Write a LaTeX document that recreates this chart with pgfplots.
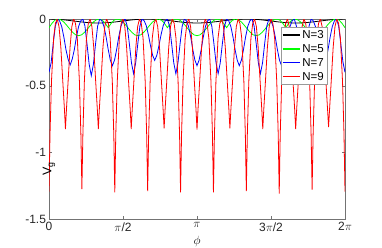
\documentclass[border=0pt]{standalone}
\usepackage{fontspec}
\setmainfont{Liberation Sans}
\usepackage{pgfplots}
\pgfplotsset{compat=1.18}
\definecolor{mgreen}{rgb}{0,1,0}
\begin{document}
\begin{tikzpicture}
\useasboundingbox (-49pt,-28pt) rectangle (333pt,219pt);
\begin{axis}[
  at={(0,0)}, anchor=south west,
  scale only axis, width=296pt, height=200pt,
  xmin=0, xmax=6.283185, ymin=-1.5, ymax=0,
  xtick={0,1.570796,3.141593,4.712389,6.283185},
  xticklabels={0,$\pi$/2,$\pi$,3$\pi$/2,2$\pi$},
  ytick={-1.5,-1,-0.5,0},
  yticklabels={-1.5,-1,-0.5,0},
  tick align=inside,
  major tick length=3pt,
  axis line style={black!55}, tick style={black!55},
  tick label style={font=\fontsize{12}{14}\selectfont, text=black!85},
  yticklabel style={xshift=0.5pt},
  xlabel={$\phi$},
  xlabel style={at={(axis description cs:0.5,0)}, anchor=north, yshift=-14pt, font=\fontsize{12}{14}\selectfont},
  ylabel={V\textsubscript{g}},
  ylabel style={at={(axis description cs:0,0.405)}, anchor=center, xshift=-31pt, font=\fontsize{12.5}{14}\selectfont},
  legend style={at={(0.939,0.96)}, anchor=north east, draw=black!40, font=\fontsize{11.5}{13}\selectfont, cells={anchor=west}, inner sep=1pt, row sep=0.5pt},
  legend image code/.code={\draw[#1, line width=1.3pt] (0cm,0cm) -- (0.6cm,0cm);},
  every axis plot/.append style={line width=0.8pt},
]
% N=3, x in units of pi/3
\addplot[black, smooth, x filter/.expression={x*1.0471976}] coordinates {
(0,0) (0.25,-0.0044) (0.5,-0.015) (0.75,-0.0256) (1,-0.03) (1.25,-0.0256) (1.5,-0.015) (1.75,-0.0044)
(2,0) (2.25,-0.0044) (2.5,-0.015) (2.75,-0.0256) (3,-0.03) (3.25,-0.0256) (3.5,-0.015) (3.75,-0.0044)
(4,0) (4.25,-0.0044) (4.5,-0.015) (4.75,-0.0256) (5,-0.03) (5.25,-0.0256) (5.5,-0.015) (5.75,-0.0044)
(6,0)};
\addlegendentry{N=3}
% N=5, x in units of pi/5
\addplot[mgreen, x filter/.expression={x*0.6283185}] coordinates {
(0,-0.065) (0.1,-0.0325) (0.2,-0.0085) (0.3,0) (0.4,-0.006) (0.5,-0.0225) (0.6,-0.0475) (0.7,-0.075) (0.8,-0.1) (0.9,-0.119)
(1,-0.125) (1.1,-0.119) (1.2,-0.1) (1.3,-0.075) (1.4,-0.0475) (1.5,-0.0225) (1.6,-0.006) (1.7,0) (1.8,-0.0085) (1.9,-0.0325)
(2,-0.065) (2.1,-0.0325) (2.2,-0.0085) (2.3,0) (2.4,-0.006) (2.5,-0.0225) (2.6,-0.0475) (2.7,-0.075) (2.8,-0.1) (2.9,-0.119)
(3,-0.125) (3.1,-0.119) (3.2,-0.1) (3.3,-0.075) (3.4,-0.0475) (3.5,-0.0225) (3.6,-0.006) (3.7,0) (3.8,-0.0085) (3.9,-0.0325)
(4,-0.065) (4.1,-0.0325) (4.2,-0.0085) (4.3,0) (4.4,-0.006) (4.5,-0.0225) (4.6,-0.0475) (4.7,-0.075) (4.8,-0.1) (4.9,-0.119)
(5,-0.125) (5.1,-0.119) (5.2,-0.1) (5.3,-0.075) (5.4,-0.0475) (5.5,-0.0225) (5.6,-0.006) (5.7,0) (5.8,-0.0085) (5.9,-0.0325)
(6,-0.065) (6.1,-0.0325) (6.2,-0.0085) (6.3,0) (6.4,-0.006) (6.5,-0.0225) (6.6,-0.0475) (6.7,-0.075) (6.8,-0.1) (6.9,-0.119)
(7,-0.125) (7.1,-0.119) (7.2,-0.1) (7.3,-0.075) (7.4,-0.0475) (7.5,-0.0225) (7.6,-0.006) (7.7,0) (7.8,-0.0085) (7.9,-0.0325)
(8,-0.065) (8.1,-0.0325) (8.2,-0.0085) (8.3,0) (8.4,-0.006) (8.5,-0.0225) (8.6,-0.0475) (8.7,-0.075) (8.8,-0.1) (8.9,-0.119)
(9,-0.125) (9.1,-0.119) (9.2,-0.1) (9.3,-0.075) (9.4,-0.0475) (9.5,-0.0225) (9.6,-0.006) (9.7,0) (9.8,-0.0085) (9.9,-0.0325)
(10,-0.065)};
\addlegendentry{N=5}
% N=7, x in units of pi/7
\addplot[blue, x filter/.expression={x*0.4487990}] coordinates {
(0,-0.40) (0.1,-0.328) (0.2,-0.185) (0.3,-0.053) (0.4,0) (0.5,-0.014) (0.6,-0.056) (0.7,-0.133) (0.8,-0.228) (0.9,-0.300)
(1,-0.345) (1.1,-0.300) (1.2,-0.228) (1.3,-0.133) (1.4,-0.056) (1.5,-0.014) (1.6,0) (1.7,-0.053) (1.8,-0.190) (1.9,-0.340)
(2,-0.425) (2.1,-0.340) (2.2,-0.190) (2.3,-0.053) (2.4,0) (2.5,-0.014) (2.6,-0.056) (2.7,-0.133) (2.8,-0.228) (2.9,-0.308)
(3,-0.35) (3.1,-0.308) (3.2,-0.228) (3.3,-0.133) (3.4,-0.056) (3.5,-0.014) (3.6,0) (3.7,-0.053) (3.8,-0.185) (3.9,-0.328)
(4,-0.41) (4.1,-0.328) (4.2,-0.185) (4.3,-0.053) (4.4,0) (4.5,-0.013) (4.6,-0.050) (4.7,-0.118) (4.8,-0.200) (4.9,-0.272)
(5,-0.31) (5.1,-0.272) (5.2,-0.200) (5.3,-0.118) (5.4,-0.050) (5.5,-0.013) (5.6,0) (5.7,-0.053) (5.8,-0.185) (5.9,-0.328)
(6,-0.41) (6.1,-0.328) (6.2,-0.185) (6.3,-0.053) (6.4,0) (6.5,-0.014) (6.6,-0.056) (6.7,-0.133) (6.8,-0.228) (6.9,-0.308)
(7,-0.35) (7.1,-0.308) (7.2,-0.228) (7.3,-0.133) (7.4,-0.056) (7.5,-0.014) (7.6,0) (7.7,-0.053) (7.8,-0.185) (7.9,-0.328)
(8,-0.41) (8.1,-0.328) (8.2,-0.185) (8.3,-0.053) (8.4,0) (8.5,-0.014) (8.6,-0.056) (8.7,-0.133) (8.8,-0.228) (8.9,-0.308)
(9,-0.35) (9.1,-0.308) (9.2,-0.228) (9.3,-0.133) (9.4,-0.056) (9.5,-0.014) (9.6,0) (9.7,-0.053) (9.8,-0.185) (9.9,-0.328)
(10,-0.41) (10.1,-0.328) (10.2,-0.185) (10.3,-0.053) (10.4,0) (10.5,-0.014) (10.6,-0.056) (10.7,-0.133) (10.8,-0.228) (10.9,-0.308)
(11,-0.35) (11.1,-0.308) (11.2,-0.228) (11.3,-0.133) (11.4,-0.056) (11.5,-0.014) (11.6,0) (11.7,-0.053) (11.8,-0.185) (11.9,-0.328)
(12,-0.41) (12.1,-0.328) (12.2,-0.185) (12.3,-0.053) (12.4,0) (12.5,-0.014) (12.6,-0.056) (12.7,-0.133) (12.8,-0.228) (12.9,-0.308)
(13,-0.35) (13.1,-0.308) (13.2,-0.228) (13.3,-0.133) (13.4,-0.056) (13.5,-0.014) (13.6,0) (13.7,-0.053) (13.8,-0.185) (13.9,-0.320)
(14,-0.40)};
\addlegendentry{N=7}
% N=9, x in units of pi/9
\addplot[red, x filter/.expression={x*0.3490659}] coordinates {
(0,-1.295) (0.06,-0.87) (0.15,-0.47) (0.28,-0.143) (0.39,-0.033) (0.5,0) (0.61,-0.057) (0.72,-0.213) (0.85,-0.492) (0.94,-0.68)
(1,-0.825) (1.06,-0.68) (1.15,-0.492) (1.28,-0.213) (1.39,-0.057) (1.5,0) (1.61,-0.033) (1.72,-0.143) (1.85,-0.47) (1.94,-0.87)
(2,-1.275) (2.06,-0.87) (2.15,-0.47) (2.28,-0.143) (2.39,-0.033) (2.5,0) (2.61,-0.057) (2.72,-0.213) (2.85,-0.492) (2.94,-0.68)
(3,-0.825) (3.06,-0.68) (3.15,-0.492) (3.28,-0.213) (3.39,-0.057) (3.5,0) (3.61,-0.033) (3.72,-0.143) (3.85,-0.47) (3.94,-0.87)
(4,-1.30) (4.06,-0.87) (4.15,-0.47) (4.28,-0.143) (4.39,-0.033) (4.5,0) (4.61,-0.057) (4.72,-0.213) (4.85,-0.492) (4.94,-0.68)
(5,-0.825) (5.06,-0.68) (5.15,-0.492) (5.28,-0.213) (5.39,-0.057) (5.5,0) (5.61,-0.033) (5.72,-0.143) (5.85,-0.47) (5.94,-0.87)
(6,-1.29) (6.06,-0.87) (6.15,-0.47) (6.28,-0.143) (6.39,-0.033) (6.5,0) (6.61,-0.057) (6.72,-0.213) (6.85,-0.492) (6.94,-0.68)
(7,-0.82) (7.06,-0.68) (7.15,-0.492) (7.28,-0.213) (7.39,-0.057) (7.5,0) (7.61,-0.033) (7.72,-0.143) (7.85,-0.47) (7.94,-0.87)
(8,-1.30) (8.06,-0.87) (8.15,-0.47) (8.28,-0.143) (8.39,-0.033) (8.5,0) (8.61,-0.057) (8.72,-0.213) (8.85,-0.492) (8.94,-0.68)
(9,-0.83) (9.06,-0.68) (9.15,-0.492) (9.28,-0.213) (9.39,-0.057) (9.5,0) (9.61,-0.033) (9.72,-0.143) (9.85,-0.47) (9.94,-0.87)
(10,-1.30) (10.06,-0.87) (10.15,-0.47) (10.28,-0.143) (10.39,-0.033) (10.5,0) (10.61,-0.057) (10.72,-0.213) (10.85,-0.492) (10.94,-0.68)
(11,-0.82) (11.06,-0.68) (11.15,-0.492) (11.28,-0.213) (11.39,-0.057) (11.5,0) (11.61,-0.033) (11.72,-0.143) (11.85,-0.47) (11.94,-0.87)
(12,-1.29) (12.06,-0.87) (12.15,-0.47) (12.28,-0.143) (12.39,-0.033) (12.5,0) (12.61,-0.057) (12.72,-0.213) (12.85,-0.492) (12.94,-0.68)
(13,-0.825) (13.06,-0.68) (13.15,-0.492) (13.28,-0.213) (13.39,-0.057) (13.5,0) (13.61,-0.033) (13.72,-0.143) (13.85,-0.47) (13.94,-0.87)
(14,-1.31) (14.06,-0.87) (14.15,-0.47) (14.28,-0.143) (14.39,-0.033) (14.5,0) (14.61,-0.057) (14.72,-0.213) (14.85,-0.492) (14.94,-0.68)
(15,-0.825) (15.06,-0.68) (15.15,-0.492) (15.28,-0.213) (15.39,-0.057) (15.5,0) (15.61,-0.033) (15.72,-0.143) (15.85,-0.47) (15.94,-0.87)
(16,-1.28) (16.06,-0.87) (16.15,-0.47) (16.28,-0.143) (16.39,-0.033) (16.5,0) (16.61,-0.057) (16.72,-0.213) (16.85,-0.492) (16.94,-0.68)
(17,-0.81) (17.06,-0.68) (17.15,-0.492) (17.28,-0.213) (17.39,-0.057) (17.5,0) (17.61,-0.033) (17.72,-0.143) (17.85,-0.47) (17.94,-0.87)
(18,-1.295)};
\addlegendentry{N=9}
\node[font=\fontsize{12}{14}\selectfont, anchor=center] at ([xshift=-20pt, yshift=6pt]rel axis cs:0,1) {(d)};
\end{axis}
\end{tikzpicture}
\end{document}
